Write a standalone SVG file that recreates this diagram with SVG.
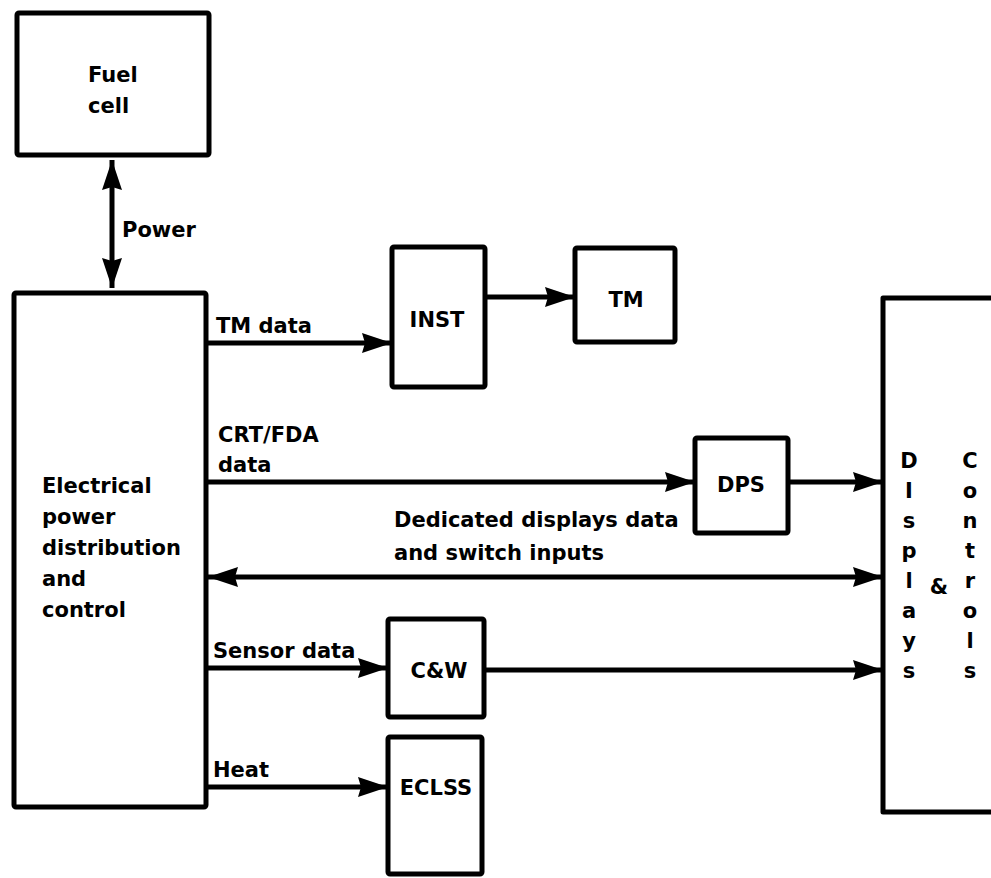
<svg xmlns="http://www.w3.org/2000/svg" width="991" height="878" viewBox="0 0 991 878">
<style>
.box{fill:#fff;stroke:#000;stroke-width:5;stroke-linejoin:round}
.t{font-family:"DejaVu Sans","Liberation Sans",sans-serif;font-weight:bold;font-size:21px;fill:#000}
.c{text-anchor:middle}
.ln{stroke:#000;stroke-width:5;fill:none}
</style>
<defs>
<marker id="ah" markerUnits="userSpaceOnUse" markerWidth="32" markerHeight="22" refX="30" refY="10" orient="auto-start-reverse">
<path d="M0,0 L30,10 L0,20 L3,10 Z" fill="#000"/>
</marker>
</defs>
<rect width="991" height="878" fill="#fff"/>
<g id="connectors">
<line class="ln" x1="112" y1="160" x2="112" y2="288" marker-start="url(#ah)" marker-end="url(#ah)"/>
<line class="ln" x1="206" y1="343" x2="392" y2="343" marker-end="url(#ah)"/>
<line class="ln" x1="485" y1="297" x2="575" y2="297" marker-end="url(#ah)"/>
<line class="ln" x1="206" y1="482" x2="695" y2="482" marker-end="url(#ah)"/>
<line class="ln" x1="788" y1="482" x2="883" y2="482" marker-end="url(#ah)"/>
<line class="ln" x1="208" y1="577" x2="883" y2="577" marker-start="url(#ah)" marker-end="url(#ah)"/>
<line class="ln" x1="206" y1="668" x2="388" y2="668" marker-end="url(#ah)"/>
<line class="ln" x1="484" y1="670" x2="883" y2="670" marker-end="url(#ah)"/>
<line class="ln" x1="206" y1="787" x2="388" y2="787" marker-end="url(#ah)"/>
<text class="t" x="122" y="237">Power</text>
<text class="t" x="216" y="333">TM data</text>
<text class="t" x="218" y="442">CRT/FDA</text>
<text class="t" x="218" y="472">data</text>
<text class="t" x="394" y="527">Dedicated displays data</text>
<text class="t" x="394" y="560">and switch inputs</text>
<text class="t" x="213" y="658">Sensor data</text>
<text class="t" x="213" y="777">Heat</text>
</g>
<g id="fuelcell">
<rect class="box" x="17" y="13" width="192" height="142" rx="2"/>
<text class="t" x="88" y="82">Fuel</text>
<text class="t" x="88" y="113">cell</text>
</g>
<g id="epdc">
<rect class="box" x="14" y="293" width="192" height="514" rx="2"/>
<text class="t" x="42" y="493">Electrical</text>
<text class="t" x="42" y="524">power</text>
<text class="t" x="42" y="555">distribution</text>
<text class="t" x="42" y="586">and</text>
<text class="t" x="42" y="617">control</text>
</g>
<g id="inst">
<rect class="box" x="392" y="247" width="93" height="140" rx="2"/>
<text class="t c" x="437" y="327">INST</text>
</g>
<g id="tm">
<rect class="box" x="575" y="248" width="100" height="94" rx="2"/>
<text class="t c" x="626" y="307">TM</text>
</g>
<g id="dps">
<rect class="box" x="695" y="438" width="93" height="95" rx="2"/>
<text class="t c" x="741" y="492">DPS</text>
</g>
<g id="cw">
<rect class="box" x="388" y="619" width="96" height="98" rx="2"/>
<text class="t c" x="439" y="678">C&amp;W</text>
</g>
<g id="eclss">
<rect class="box" x="388" y="737" width="94" height="137" rx="2"/>
<text class="t c" x="436" y="795">ECLSS</text>
</g>
<g id="dc">
<path class="box" d="M1000,298 L883,298 L883,812 L1000,812"/>
<g class="t c">
<text x="909" y="468">D</text>
<text x="909" y="498">I</text>
<text x="909" y="528">s</text>
<text x="909" y="558">p</text>
<text x="909" y="588">l</text>
<text x="909" y="618">a</text>
<text x="909" y="648">y</text>
<text x="909" y="678">s</text>
<text x="939" y="594">&amp;</text>
<text x="970" y="468">C</text>
<text x="970" y="498">o</text>
<text x="970" y="528">n</text>
<text x="970" y="558">t</text>
<text x="970" y="588">r</text>
<text x="970" y="618">o</text>
<text x="970" y="648">l</text>
<text x="970" y="678">s</text>
</g>
</g>
</svg>
